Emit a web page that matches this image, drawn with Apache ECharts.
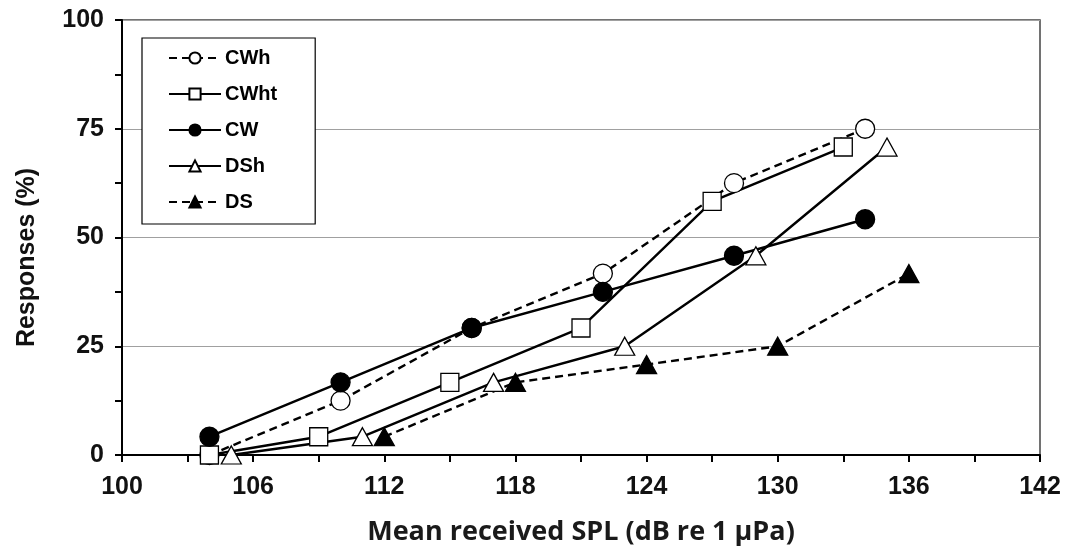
<!DOCTYPE html>
<html>
<head>
<meta charset="utf-8">
<script src="https://cdn.jsdelivr.net/npm/echarts@6/dist/echarts.min.js"></script>
<style>html,body{margin:0;padding:0;background:#fff}#c{width:1067px;height:546px}</style>
</head>
<body>
<div id="c"></div>
<script>
const seriesNames = ['CWh', 'CWht', 'CW', 'DSh', 'DS'];
const CWh  = [[104, 0], [110, 12.5], [116, 29.2], [122, 41.7], [128, 62.5], [134, 75]];
const CWht = [[104, 0], [109, 4.2], [115, 16.7], [121, 29.2], [127, 58.3], [133, 70.8]];
const CW   = [[104, 4.2], [110, 16.7], [116, 29.2], [122, 37.5], [128, 45.8], [134, 54.2]];
const DSh  = [[105, 0], [111, 4.2], [117, 16.7], [123, 25], [129, 45.8], [135, 70.8]];
const DS   = [[112, 4.2], [118, 16.7], [124, 20.8], [130, 25], [136, 41.7]];
const xTitle = 'Mean received SPL (dB re 1 µPa)';
const yTitle = 'Responses (%)';

const styles = {
  CWh:  { symbol: 'circle', fill: '#fff', dash: [8, 5], size: 19 },
  CWht: { symbol: 'rect', fill: '#fff', dash: 'solid', size: 18 },
  CW:   { symbol: 'circle', fill: '#000', dash: 'solid', size: 19 },
  DSh:  { symbol: 'triangle', fill: '#fff', dash: 'solid', size: 19 },
  DS:   { symbol: 'triangle', fill: '#000', dash: [8, 5], size: 19 }
};
const dataMap = { CWh, CWht, CW, DSh, DS };

const chart = echarts.init(document.getElementById('c'), null, { renderer: 'canvas' });
chart.setOption({
  animation: false,
  backgroundColor: '#fff',
  textStyle: { fontFamily: 'Liberation Sans, Arial, sans-serif' },
  grid: { left: 122, right: 27, top: 20, bottom: 91, outerBoundsMode: 'none', containLabel: false, show: true, borderColor: '#444', borderWidth: 1.5, backgroundColor: 'transparent' },
  legend: {
    orient: 'vertical',
    left: 142, top: 38,
    data: seriesNames,
    backgroundColor: '#fff',
    borderColor: '#000',
    borderWidth: 1.2,
    borderRadius: 0,
    padding: [10, 38, 12, 26],
    itemWidth: 52,
    itemHeight: 14,
    itemGap: 16,
    textStyle: { fontSize: 20, fontWeight: 'bold', color: '#000', fontFamily: 'Liberation Sans, Arial, sans-serif', padding: [0, 0, 0, -1] }
  },
  xAxis: {
    type: 'value', min: 100, max: 142, interval: 6,
    name: xTitle, nameLocation: 'middle', nameGap: 64,
    nameTextStyle: { fontSize: 27, fontWeight: 'bold', color: '#1a1a1a', fontFamily: 'Open Sans, sans-serif' },
    axisLine: { show: true, onZero: false, lineStyle: { color: '#000', width: 2 } },
    axisTick: { show: true, inside: false, length: 7, lineStyle: { color: '#000', width: 2 } },
    minorTick: { show: true, splitNumber: 2, length: 7, lineStyle: { color: '#000', width: 2 } },
    axisLabel: { fontSize: 25, fontWeight: 'bold', color: '#111', margin: 20 },
    splitLine: { show: false }
  },
  yAxis: {
    type: 'value', min: 0, max: 100, interval: 25,
    name: yTitle, nameLocation: 'middle', nameGap: 82, nameRotate: 90,
    nameTextStyle: { fontSize: 25, fontWeight: 'bold', color: '#111', padding: [0, 40, 0, 0] },
    axisLine: { show: true, lineStyle: { color: '#000', width: 2 } },
    axisTick: { show: true, inside: false, length: 7, lineStyle: { color: '#000', width: 2 } },
    minorTick: { show: true, splitNumber: 2, length: 7, lineStyle: { color: '#000', width: 2 } },
    axisLabel: { fontSize: 25, fontWeight: 'bold', color: '#111', margin: 18 },
    splitLine: { show: true, lineStyle: { color: '#a0a0a0', width: 1.2 } }
  },
  series: seriesNames.map(n => ({
    name: n,
    type: 'line',
    data: dataMap[n],
    symbol: styles[n].symbol,
    symbolSize: styles[n].symbol === 'triangle' ? [20, 18] : styles[n].size,
    showAllSymbol: true,
    lineStyle: { color: '#000', width: 2.4, type: styles[n].dash },
    itemStyle: { color: styles[n].fill, borderColor: '#000', borderWidth: 1.3 },
    emphasis: { disabled: true }
  }))
});
</script>
</body>
</html>
